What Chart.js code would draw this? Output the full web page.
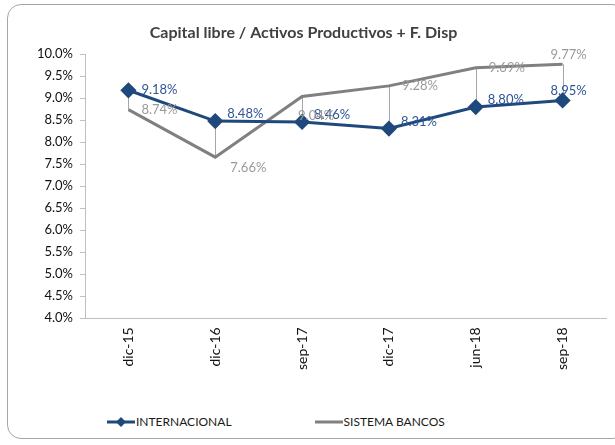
<!DOCTYPE html>
<html lang="es">
<head>
<meta charset="utf-8">
<script src="https://cdn.jsdelivr.net/npm/chart.js@4.4.1/dist/chart.umd.min.js"></script>
<style>
html, body { margin: 0; padding: 0; background: #fff; }
body { width: 615px; height: 445px; position: relative; overflow: hidden; font-family: Lato, sans-serif; }
#marco { position: absolute; left: 7px; top: 4px; width: 620px; height: 435px; border: 1px solid #a6a6a6; border-radius: 14px; box-sizing: border-box; }
#lienzo { position: absolute; left: 0; top: 0; width: 615px; height: 382px; }
#leyenda { position: absolute; left: 107px; top: 413px; display: flex; font-size: 12px; color: #1a1a1a; line-height: 18px; }
#leyenda .item { display: flex; align-items: center; }
#leyenda .item + .item { margin-left: 83px; }
#leyenda canvas { margin-right: 1px; }
</style>
</head>
<body>
<div id="marco"></div>
<div id="lienzo"><canvas id="capitalChart"></canvas></div>
<div id="leyenda"></div>
<script>
// Datos
const periodos = ['dic-15', 'dic-16', 'sep-17', 'dic-17', 'jun-18', 'sep-18'];
const internacional = [9.18, 8.48, 8.46, 8.31, 8.80, 8.95];
const sistemaBancos = [8.74, 7.66, 9.04, 9.28, 9.69, 9.77];
const ticksY = [4.0, 4.5, 5.0, 5.5, 6.0, 6.5, 7.0, 7.5, 8.0, 8.5, 9.0, 9.5, 10.0];

// Posición de cada etiqueta respecto a su punto
const posInternacional = ['right', 'upright', 'upright', 'upright', 'upright', 'above'];
const posSistema = ['right', 'belowright', 'below', 'right', 'right', 'above'];

const azul = '#1f497d';
const gris = '#808080';

// Líneas verticales entre ambas series (high-low)
const lineasHL = {
    id: 'lineasHL',
    beforeDatasetsDraw(chart) {
        const { ctx, scales: { x, y } } = chart;
        ctx.save();
        ctx.strokeStyle = '#a6a6a6';
        ctx.lineWidth = 1;
        periodos.forEach((_, i) => {
            const px = Math.round(x.getPixelForValue(i)) + 0.5;
            ctx.beginPath();
            ctx.moveTo(px, y.getPixelForValue(internacional[i]));
            ctx.lineTo(px, y.getPixelForValue(sistemaBancos[i]));
            ctx.stroke();
        });
        ctx.restore();
    }
};

// Etiquetas de valor
const etiquetas = {
    id: 'etiquetas',
    afterDatasetsDraw(chart) {
        const { ctx } = chart;
        ctx.save();
        ctx.font = '13px Lato, sans-serif';
        ctx.textAlign = 'left';
        ctx.textBaseline = 'middle';
        const series = [
            { idx: 0, datos: internacional, pos: posInternacional, color: '#2f5597' },
            { idx: 1, datos: sistemaBancos, pos: posSistema, color: '#9a9a9a' }
        ];
        series.forEach(s => {
            const meta = chart.getDatasetMeta(s.idx);
            ctx.fillStyle = s.color;
            meta.data.forEach((pt, i) => {
                let dx = 13, dy = 0;
                if (s.pos[i] === 'upright') { dx = 12; dy = -7; }
                if (s.pos[i] === 'above') { dx = -12; dy = -10; }
                if (s.pos[i] === 'below') { dx = -4; dy = 19; }
                if (s.pos[i] === 'belowright') { dx = 15; dy = 11; }
                ctx.fillText(s.datos[i].toFixed(2) + '%', pt.x + dx, pt.y + dy);
            });
        });
        ctx.restore();
    }
};

const ctx = document.getElementById('capitalChart').getContext('2d');
new Chart(ctx, {
    type: 'line',
    plugins: [lineasHL, etiquetas],
    data: {
        labels: periodos,
        datasets: [{
            label: 'INTERNACIONAL',
            data: internacional,
            borderColor: azul,
            backgroundColor: azul,
            borderWidth: 3,
            pointStyle: 'rectRot',
            pointRadius: 6,
            pointHoverRadius: 6,
            tension: 0
        }, {
            label: 'SISTEMA BANCOS',
            data: sistemaBancos,
            borderColor: gris,
            backgroundColor: gris,
            borderWidth: 3,
            pointRadius: 0,
            pointHoverRadius: 0,
            tension: 0
        }]
    },
    options: {
        responsive: true,
        maintainAspectRatio: false,
        animation: false,
        layout: { padding: { left: 0, right: 8, top: 23, bottom: 3 } },
        plugins: {
            legend: { display: false },
            tooltip: { enabled: false },
            title: {
                display: true,
                text: 'Capital libre / Activos Productivos + F. Disp',
                color: '#404040',
                font: { family: 'Lato, sans-serif', size: 16, weight: 'bold' },
                padding: { top: 0, bottom: 12 }
            }
        },
        scales: {
            x: {
                offset: true,
                grid: { display: true, drawOnChartArea: false, drawTicks: false },
                border: { color: '#bfbfbf' },
                ticks: {
                    color: '#111',
                    minRotation: 90,
                    maxRotation: 90,
                    padding: 9,
                    font: { family: 'Lato, sans-serif', size: 14 }
                }
            },
            y: {
                min: 4,
                max: 10,
                afterFit(scale) { scale.width = 85; },
                afterBuildTicks(scale) { scale.ticks = ticksY.map(v => ({ value: v })); },
                grid: { display: true, drawOnChartArea: false, drawTicks: true, tickLength: 5, color: '#bfbfbf' },
                border: { color: '#bfbfbf' },
                ticks: {
                    color: '#111',
                    padding: 7,
                    font: { family: 'Lato, sans-serif', size: 13 },
                    callback: v => Number(v).toFixed(1) + '%'
                }
            }
        }
    }
});

// Leyenda propia con la muestra de línea de cada serie
const leyenda = document.getElementById('leyenda');
[{ nombre: 'INTERNACIONAL', color: azul, rombo: true },
 { nombre: 'SISTEMA BANCOS', color: gris, rombo: false }].forEach(s => {
    const item = document.createElement('div');
    item.className = 'item';
    const muestra = document.createElement('canvas');
    muestra.width = 28; muestra.height = 12;
    const c = muestra.getContext('2d');
    c.strokeStyle = s.color; c.lineWidth = 3;
    c.beginPath(); c.moveTo(0, 6); c.lineTo(28, 6); c.stroke();
    if (s.rombo) {
        c.fillStyle = s.color;
        c.beginPath(); c.moveTo(14, 1); c.lineTo(19, 6); c.lineTo(14, 11); c.lineTo(9, 6); c.closePath(); c.fill();
    }
    const texto = document.createElement('span');
    texto.textContent = s.nombre;
    item.appendChild(muestra);
    item.appendChild(texto);
    leyenda.appendChild(item);
});
</script>
</body>
</html>
